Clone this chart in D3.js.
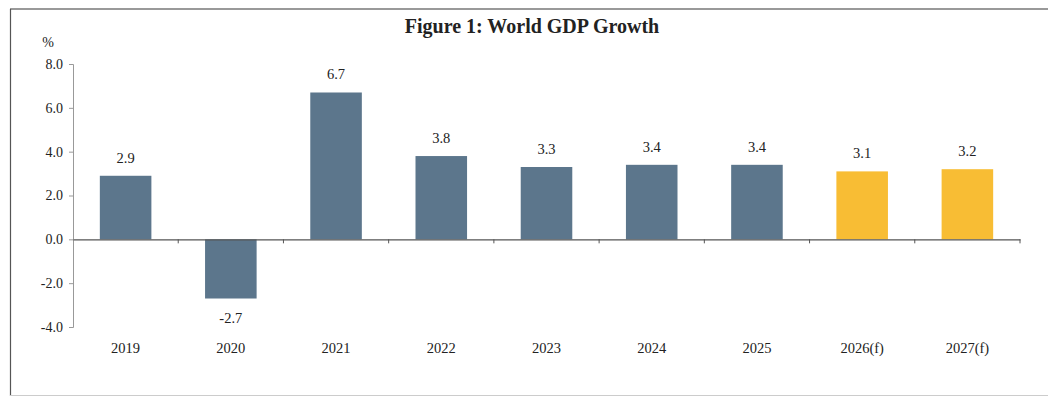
<!DOCTYPE html>
<html>
<head>
<meta charset="utf-8">
<script src="https://cdn.jsdelivr.net/npm/d3@7"></script>
<style>
  body { margin: 0; background: #fff; }
  text { font-family: "Liberation Serif", "Times New Roman", serif; fill: #222; }
</style>
</head>
<body>
<script>
// data
var years = ["2019", "2020", "2021", "2022", "2023", "2024", "2025", "2026(f)", "2027(f)"];
var growth = [2.9, -2.7, 6.7, 3.8, 3.3, 3.4, 3.4, 3.1, 3.2];
var forecast = [false, false, false, false, false, false, false, true, true];
var yTicks = [-4, -2, 0, 2, 4, 6, 8];

var W = 1048, H = 397;
var svg = d3.select("body").append("svg")
    .attr("width", W)
    .attr("height", H);

// frame of the scanned box
svg.append("line").attr("x1", 10).attr("y1", 9).attr("x2", W).attr("y2", 9)
    .attr("stroke", "#777").attr("stroke-width", 1.5);
svg.append("line").attr("x1", 10.5).attr("y1", 9).attr("x2", 10.5).attr("y2", 396)
    .attr("stroke", "#555").attr("stroke-width", 1.2);
svg.append("line").attr("x1", 10).attr("y1", 395.5).attr("x2", W).attr("y2", 395.5)
    .attr("stroke", "#ccc").attr("stroke-width", 1);

svg.append("text")
    .attr("x", 532).attr("y", 33)
    .attr("text-anchor", "middle")
    .style("font-size", "20px").style("font-weight", "bold")
    .text("Figure 1: World GDP Growth");

var x = d3.scaleBand().domain(years).range([73, 1020]).paddingInner(0).paddingOuter(0);
var y = d3.scaleLinear().domain([-4, 8]).range([327, 64]);

var fmt = function (d) { return d3.format(".1f")(d).replace("\u2212", "-"); };

// y axis
var yAxis = svg.append("g")
    .attr("transform", "translate(73,0)")
    .call(d3.axisLeft(y).tickValues(yTicks).tickSize(4).tickPadding(6)
        .tickFormat(fmt));
yAxis.select(".domain").attr("stroke", "#999");
yAxis.selectAll(".tick line").attr("stroke", "#999");
yAxis.selectAll("text").style("font-size", "14px").attr("fill", "#222")
    .style("font-family", "Liberation Serif, serif");

svg.append("text").attr("x", 48).attr("y", 47)
    .attr("text-anchor", "middle").style("font-size", "14px").text("%");

var barW = x.bandwidth() * 0.49;

svg.selectAll("rect.bar")
    .data(growth)
    .enter()
    .append("rect")
    .attr("class", "bar")
    .attr("x", function (d, i) { return x(years[i]) + (x.bandwidth() - barW) / 2; })
    .attr("width", barW)
    .attr("y", function (d) { return y(Math.max(0, d)); })
    .attr("height", function (d) { return Math.abs(y(d) - y(0)); })
    .attr("fill", function (d, i) { return forecast[i] ? "#f8bd34" : "#5c768c"; });

// zero line with category ticks
var xAxis = svg.append("g")
    .attr("transform", "translate(0," + y(0) + ")")
    .call(d3.axisBottom(x).tickSize(0).tickFormat(""));
xAxis.select(".domain").attr("stroke", "#555").attr("stroke-width", 1.3);
svg.selectAll("line.sep")
    .data(years.slice(1).concat(["end"]))
    .enter()
    .append("line")
    .attr("class", "sep")
    .attr("x1", function (d, i) { return 73 + x.step() * (i + 1); })
    .attr("x2", function (d, i) { return 73 + x.step() * (i + 1); })
    .attr("y1", y(0)).attr("y2", y(0) + 4)
    .attr("stroke", "#555");

// value labels
svg.selectAll("text.val")
    .data(growth)
    .enter()
    .append("text")
    .attr("class", "val")
    .attr("x", function (d, i) { return x(years[i]) + x.bandwidth() / 2; })
    .attr("y", function (d) { return d >= 0 ? y(d) - 13 : y(d) + 24; })
    .attr("text-anchor", "middle")
    .style("font-size", "14.5px")
    .text(function (d) { return fmt(d); });

// category labels
svg.selectAll("text.cat")
    .data(years)
    .enter()
    .append("text")
    .attr("class", "cat")
    .attr("x", function (d) { return x(d) + x.bandwidth() / 2; })
    .attr("y", 353)
    .attr("text-anchor", "middle")
    .style("font-size", "14.5px")
    .text(function (d) { return d; });
</script>
</body>
</html>
